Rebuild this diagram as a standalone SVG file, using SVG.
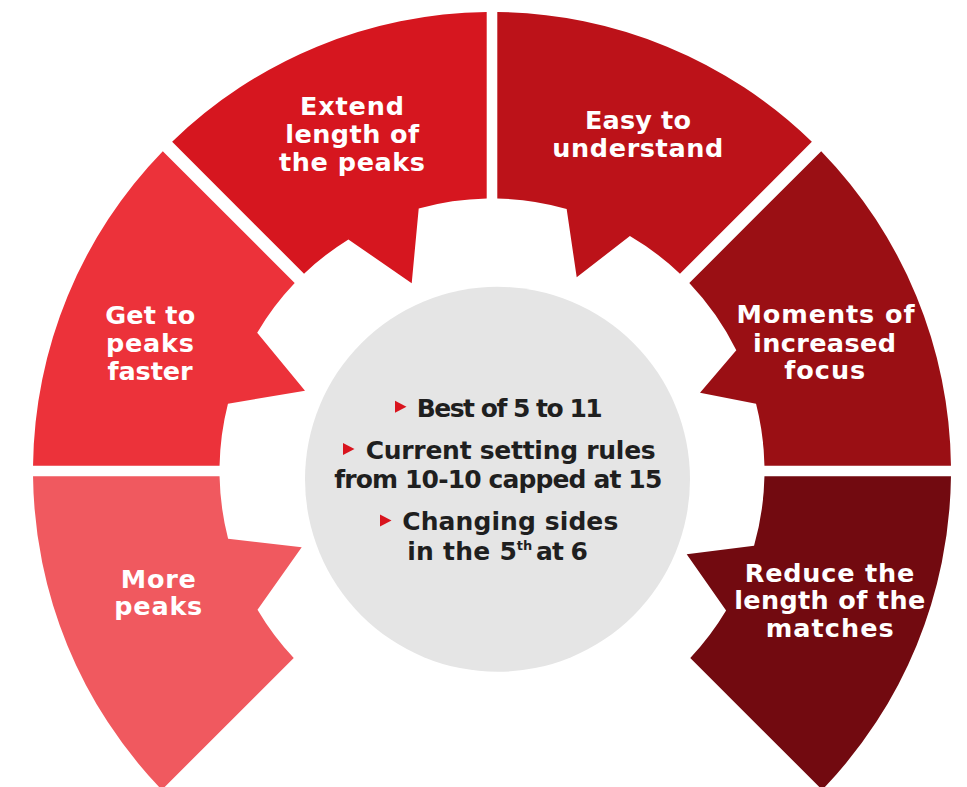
<svg xmlns="http://www.w3.org/2000/svg" width="967" height="787" viewBox="0 0 967 787">
<style>
  .lbl { font-family: "DejaVu Sans", "Open Sans", sans-serif; font-weight: 700; font-size: 25.5px; fill: #ffffff; text-anchor: middle; }
  .ctr { font-family: "DejaVu Sans", "Open Sans", sans-serif; font-weight: 700; font-size: 25px; fill: #1f1f1f; }
  .sup { font-family: "DejaVu Sans", "Open Sans", sans-serif; font-weight: 700; font-size: 13px; fill: #1f1f1f; }
  .bul { fill: #d9141e; }
</style>
<rect width="967" height="787" fill="#ffffff"/>

<g id="more-peaks">
  <path fill="#f0595f" d="M219.55,476.3 L33.03,476.3 A459,459 0 0 0 161.83,789.85 L293.74,657.94 A272.5,272.5 0 0 1 257.5,609.7 L301.7,547.3 L228.1,538.8 A272.5,272.5 0 0 1 219.55,476.3 Z"/>
  <text class="lbl" x="158.3" y="587.7" textLength="75">More</text>
  <text class="lbl" x="158.3" y="615" textLength="88">peaks</text>
</g>

<g id="get-to-peaks-faster">
  <path fill="#ec323a" d="M219.55,465.7 A272.5,272.5 0 0 1 227.95,403.7 L305,390.7 L257.2,332.7 A272.5,272.5 0 0 1 294.7,283.04 L162.8,151.14 A459,459 0 0 0 33.03,465.7 Z"/>
  <text class="lbl" x="150.2" y="324" textLength="90">Get to</text>
  <text class="lbl" x="150" y="352" textLength="88">peaks</text>
  <text class="lbl" x="150" y="380" textLength="85">faster</text>
</g>

<g id="extend-length">
  <path fill="#d6161f" d="M486.7,198.55 L486.7,12.03 A459,459 0 0 0 172.14,141.8 L304.04,273.7 A272.5,272.5 0 0 1 348.4,239.4 L411.7,283.3 L418.72,208.53 A272.5,272.5 0 0 1 486.7,198.55 Z"/>
  <text class="lbl" x="352" y="115" textLength="104">Extend</text>
  <text class="lbl" x="352.2" y="143" textLength="134">length of</text>
  <text class="lbl" x="352" y="171" textLength="146">the peaks</text>
</g>

<g id="easy-to-understand">
  <path fill="#bc1219" d="M497.3,198.55 A272.5,272.5 0 0 1 566.66,208.94 L576.7,277.3 L629.9,236 A272.5,272.5 0 0 1 679.96,273.7 L811.86,141.8 A459,459 0 0 0 497.3,12.03 Z"/>
  <text class="lbl" x="638" y="129.3" textLength="106">Easy to</text>
  <text class="lbl" x="637.8" y="157.3" textLength="171">understand</text>
</g>

<g id="moments-of-increased-focus">
  <path fill="#9a0f14" d="M689.3,283.04 L821.2,151.14 A459,459 0 0 1 950.97,465.7 L764.45,465.7 A272.5,272.5 0 0 0 756.05,403.7 L700,392.7 L736.3,350.3 A272.5,272.5 0 0 0 689.3,283.04 Z"/>
  <text class="lbl" x="825.5" y="323.3" textLength="178">Moments of</text>
  <text class="lbl" x="824.5" y="351.7" textLength="143">increased</text>
  <text class="lbl" x="824.7" y="379.3" textLength="81">focus</text>
</g>

<g id="reduce-length">
  <path fill="#720a10" d="M764.45,476.3 L950.97,476.3 A459,459 0 0 1 822.17,789.85 L690.26,657.94 A272.5,272.5 0 0 0 726.1,610.5 L686.7,554.3 L754.06,545.66 A272.5,272.5 0 0 0 764.45,476.3 Z"/>
  <text class="lbl" x="829.5" y="581.7" textLength="169.5">Reduce the</text>
  <text class="lbl" x="829.7" y="609.3" textLength="191">length of the</text>
  <text class="lbl" x="829.7" y="637.3" textLength="128">matches</text>
</g>

<g id="center">
  <circle cx="497.5" cy="479.3" r="192.5" fill="#e5e5e5"/>
  <polygon class="bul" points="395,400.7 406.5,406.7 395,412.7"/>
  <text class="ctr" x="416.7" y="416.7" textLength="186">Best of 5 to 11</text>
  <polygon class="bul" points="343,443 354.5,449 343,455"/>
  <text class="ctr" x="365.7" y="459" textLength="290">Current setting rules</text>
  <text class="ctr" x="334.3" y="488.3" textLength="328">from 10-10 capped at 15</text>
  <polygon class="bul" points="380,514.5 391.5,520.5 380,526.5"/>
  <text class="ctr" x="402.3" y="530" textLength="216">Changing sides</text>
  <text class="ctr" x="407.3" y="560" textLength="109.5">in the 5</text>
  <text class="sup" x="516.7" y="550">th</text>
  <text class="ctr" x="536" y="560" textLength="52">at 6</text>
</g>
</svg>
